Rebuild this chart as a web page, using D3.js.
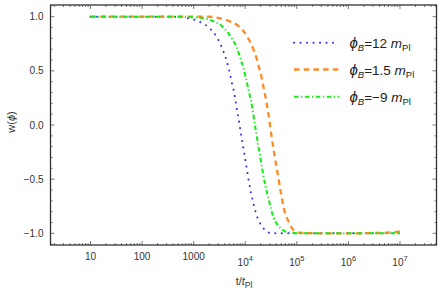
<!DOCTYPE html>
<html>
<head>
<meta charset="utf-8">
<script src="https://cdn.jsdelivr.net/npm/d3@7"></script>
<style>
  body { margin: 0; background: #fff; }
  svg { display: block; font-family: "Liberation Sans", Arial, "DejaVu Sans", sans-serif; }
</style>
</head>
<body>
<script>
// values: time t (in t_Pl) and equation of state w
var blueT = [10, 400, 790, 1290, 2070, 2860, 3630, 4340, 4950, 5560, 6280, 6850, 7500, 8180, 8950, 9790,
  10700, 11700, 12900, 14600, 16900, 18800, 21500, 26800, 34400, 1e5, 1e6, 1e7];
var blueW = [1, 1, 0.985, 0.954, 0.89, 0.806, 0.70, 0.594, 0.49, 0.38, 0.27, 0.15, 0.046, -0.068, -0.18, -0.29,
  -0.40, -0.517, -0.625, -0.735, -0.845, -0.895, -0.94, -0.988, -1, -1, -1, -1];

var orangeT = [10, 400, 1910, 2990, 4660, 6950, 9480, 11900, 14200, 16400, 18200, 20600, 22400, 24500, 28400,
  32100, 36600, 42400, 49100, 57800, 68200, 83600, 104000, 316000, 1e6, 5e6, 1e7];
var orangeW = [1, 1, 1, 0.988, 0.963, 0.923, 0.861, 0.785, 0.708, 0.625, 0.545, 0.446, 0.36, 0.268, 0.09,
  -0.092, -0.27, -0.446, -0.625, -0.797, -0.886, -0.963, -0.994, -1, -1, -0.995, -0.985];

var greenT = [10, 400, 1000, 1910, 2790, 3480, 3900, 5660, 6760, 7600, 8450, 9350, 10200, 11900, 13800, 15300,
  17200, 19300, 21800, 24900, 29300, 35500, 42400, 53700, 75500, 126000, 1e6, 1e7];
var greenW = [1, 1, 0.995, 0.976, 0.945, 0.917, 0.893, 0.79, 0.723, 0.655, 0.585, 0.514, 0.44, 0.30, 0.15, 0.009,
  -0.138, -0.28, -0.43, -0.572, -0.71, -0.856, -0.923, -0.97, -0.994, -1, -1, -1];

var xMajor = [10, 100, 1000, 1e4, 1e5, 1e6, 1e7];
var xMajorLabels = ["10", "100", "1000", "4", "5", "6", "7"];   // last four are powers of ten
var yMajor = [-1, -0.5, 0, 0.5, 1];
var yMajorLabels = ["\u22121.0", "\u22120.5", "0.0", "0.5", "1.0"];
var legendNames = ["12", "1.5", "\u22129"];

var width = 442, height = 293;
var mLeft = 50.5, mRight = 436.5, mTop = 5, mBottom = 245;

var svg = d3.select("body").append("svg")
    .attr("width", width)
    .attr("height", height);

var x = d3.scaleLog()
    .domain([Math.pow(10, 0.2245), Math.pow(10, 7.708)])
    .range([mLeft, mRight]);
var y = d3.scaleLinear()
    .domain([-1.108, 1.108])
    .range([mBottom, mTop]);

// minor ticks
var xMinor = [];
for (var e = 0; e <= 7; e++) {
    for (var k = 2; k <= 9; k++) {
        var v = k * Math.pow(10, e);
        if (v > x.domain()[0] && v < x.domain()[1]) xMinor.push(v);
    }
}
var yMinor = d3.range(-11, 12).map(function (i) { return i / 10; })
    .filter(function (v) { return Math.abs(Math.round(v * 10) % 5) != 0; });

var ticks = svg.append("g").attr("stroke", "#555").attr("stroke-width", 0.8);

function vTicks(vals, len) {
    vals.forEach(function (v) {
        ticks.append("line").attr("x1", x(v)).attr("x2", x(v)).attr("y1", mBottom).attr("y2", mBottom - len);
        ticks.append("line").attr("x1", x(v)).attr("x2", x(v)).attr("y1", mTop).attr("y2", mTop + len);
    });
}
function hTicks(vals, len) {
    vals.forEach(function (v) {
        ticks.append("line").attr("y1", y(v)).attr("y2", y(v)).attr("x1", mLeft).attr("x2", mLeft + len);
        ticks.append("line").attr("y1", y(v)).attr("y2", y(v)).attr("x1", mRight).attr("x2", mRight - len);
    });
}
vTicks(xMajor, 4);
vTicks(xMinor, 2);
hTicks(yMajor, 4);
hTicks(yMinor, 2);

// curves
var line = d3.line()
    .x(function (d) { return x(d[0]); })
    .y(function (d) { return y(d[1]); })
    .curve(d3.curveMonotoneX);

var series = [
    { t: blueT, w: blueW, color: "#3030f0", width: 2, dash: "0.1,6.4", cap: "round" },
    { t: orangeT, w: orangeW, color: "#ff8a24", width: 2.3, dash: "5.5,4.2", cap: "butt" },
    { t: greenT, w: greenW, color: "#18ec18", width: 2.1, dash: "4.5,2.6,1.2,2.6", cap: "butt" }
];
var plot = svg.append("g");
series.forEach(function (s) {
    plot.append("path")
        .attr("d", line(d3.zip(s.t, s.w)))
        .attr("fill", "none")
        .attr("stroke", s.color)
        .attr("stroke-width", s.width)
        .attr("stroke-dasharray", s.dash)
        .attr("stroke-linecap", s.cap);
});

// frame
svg.append("rect")
    .attr("x", mLeft).attr("y", mTop)
    .attr("width", mRight - mLeft).attr("height", mBottom - mTop)
    .attr("fill", "none")
    .attr("stroke", "#333")
    .attr("stroke-width", 1.3);

// tick labels
var labels = svg.append("g").attr("fill", "#333").attr("font-size", 10);
yMajor.forEach(function (v, i) {
    labels.append("text")
        .attr("x", 43.5).attr("y", y(v) + 3.6)
        .attr("text-anchor", "end")
        .text(yMajorLabels[i]);
});
xMajor.forEach(function (v, i) {
    var t = labels.append("text").attr("x", x(v)).attr("text-anchor", "middle");
    if (i < 3) {
        t.attr("y", 259.5).text(xMajorLabels[i]);
    } else {
        t.attr("y", 266.3);
        t.append("tspan").text("10");
        t.append("tspan").attr("dy", -5).attr("font-size", 7.5).text(xMajorLabels[i]);
    }
});

// axis titles
var xt = svg.append("text")
    .attr("x", 244).attr("y", 285)
    .attr("text-anchor", "middle")
    .attr("font-size", 11).attr("fill", "#333");
xt.append("tspan").text("t/");
xt.append("tspan").attr("font-style", "italic").text("t");
xt.append("tspan").attr("font-size", 8.5).attr("dy", 3).text("Pl");

var yt = svg.append("text")
    .attr("transform", "translate(14.5,122) rotate(-90)")
    .attr("text-anchor", "middle")
    .attr("font-size", 11).attr("fill", "#333");
yt.append("tspan").text("w(");
yt.append("tspan").attr("font-style", "italic").text("\u03d5");
yt.append("tspan").text(")");

// legend
var legend = svg.append("g");
var rows = [42.7, 69.5, 96.7];
series.forEach(function (s, i) {
    legend.append("line")
        .attr("x1", 294).attr("x2", 339)
        .attr("y1", rows[i]).attr("y2", rows[i])
        .attr("stroke", s.color)
        .attr("stroke-width", s.width)
        .attr("stroke-dasharray", s.dash)
        .attr("stroke-linecap", s.cap);
    var t = legend.append("text")
        .attr("x", 349.5).attr("y", rows[i] + 5)
        .attr("font-size", 13.5).attr("fill", "#222");
    t.append("tspan").attr("font-style", "italic").attr("font-size", 15).text("\u03d5");
    t.append("tspan").attr("font-style", "italic").attr("font-size", 9.5).attr("dy", 3).text("B");
    t.append("tspan").attr("dy", -3).text("=" + legendNames[i] + " ");
    t.append("tspan").attr("font-style", "italic").text("m");
    t.append("tspan").attr("font-size", 9.5).attr("dy", 3).text("Pl");
});
</script>
</body>
</html>
